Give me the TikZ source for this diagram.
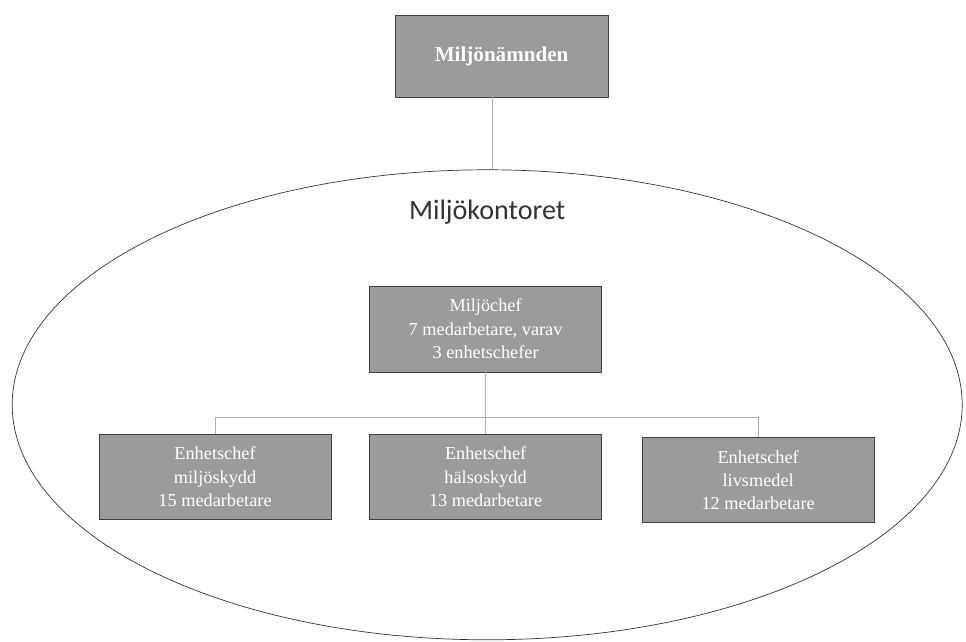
\documentclass[tikz,border=0pt]{standalone}
\usepackage{fontspec}
\setmainfont{Liberation Serif}
\newfontfamily\kontorfont{Carlito}
\usepackage{tikz}
\usetikzlibrary{calc, positioning, shapes}
\definecolor{boxgray}{RGB}{155,155,155}
\definecolor{linegray}{RGB}{175,175,175}
\tikzset{
    auto,node distance =1 cm and 1 cm,
    orgbox/.style ={rectangle, draw=black!75, fill=boxgray, text=white, align=center, inner sep=0pt, font=\fontsize{13}{16.5}\selectfont},
    topbox/.style ={orgbox, minimum width=5.33cm, minimum height=2.05cm, font=\fontsize{15}{18}\selectfont\bfseries},
    chefbox/.style ={orgbox, minimum width=5.8cm, minimum height=2.12cm},
    link/.style = {draw=linegray, line width=0.5pt}
}
\begin{document}
\begin{tikzpicture}
        \useasboundingbox (0,0) rectangle (24.15,16.05);

        %nodes

        \node(kontor)[ellipse, draw=black!80, line width=0.5pt, minimum width=23.75cm, minimum height=11.75cm, inner sep=0pt] at (12.18,5.93) {};
        \node(top)[topbox] at (12.54,14.65) {Miljönämnden};
        \node(namn)[font=\kontorfont\fontsize{20}{22}\selectfont, text=black!80] at (12.18,10.75) {Miljökontoret};
        \node(chef)[chefbox, minimum height=2.15cm] at (12.14,7.83) {Miljöchef\\7 medarbetare, varav\\3 enhetschefer};
        \node(mid)[chefbox, anchor=north] at ($(chef.south) + (0,-1.55)$) {Enhetschef\\hälsoskydd\\13 medarbetare};
        \node(left)[chefbox, anchor=east] at ($(mid.west) + (-0.95,0)$) {Enhetschef\\miljöskydd\\15 medarbetare};
        \node(right)[chefbox, anchor=west] at ($(mid.east) + (1,-0.08)$) {Enhetschef\\livsmedel\\12 medarbetare};

        %lines

        \coordinate(bus) at ($(chef.south)!0.73!(mid.north)$);
        \draw[link] (kontor.north -| namn.north) ++(0.12,0) coordinate(knorth) -- (knorth |- top.south);
        \draw[link] (chef.south) -- (mid.north);
        \draw[link] (left.north) |- (bus) -| (right.north);
    \end{tikzpicture}
\end{document}
